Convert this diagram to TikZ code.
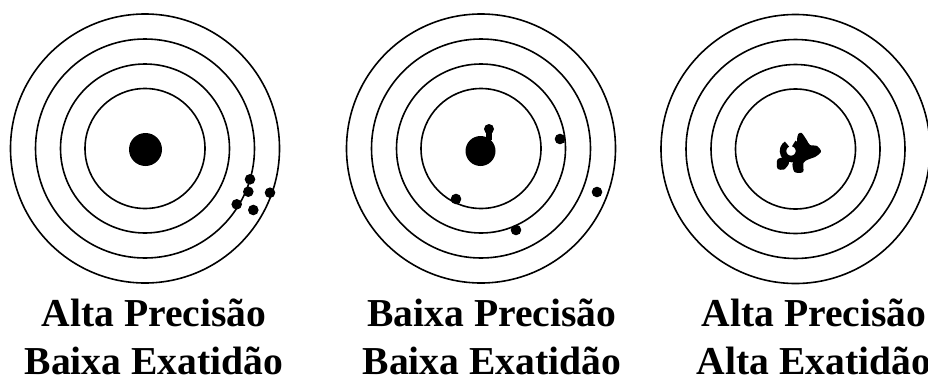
\documentclass[tikz,border=0pt]{standalone}
\usepackage{fontspec}
\setmainfont{Liberation Serif}
\begin{document}
\begin{tikzpicture}[x=1pt,y=-1pt,
  ring/.style={draw=black,line width=1.6pt},
  shot/.style={fill=black},
  lbl/.style={font=\bfseries\fontsize{39.6}{48}\selectfont,anchor=base,inner sep=0pt,text depth=0pt}]
\useasboundingbox (0,0) rectangle (928,380);
\fill[white] (0,0) rectangle (928,380);
% target 1
\foreach \r in {134.5,109.5,84.5,60} \draw[ring] (145,148.5) circle (\r);
\fill[shot] (145.5,149.5) circle (16.5);
\foreach \p in {(250,179.3),(248.3,191.7),(236.7,204.3),(253.3,210),(270,192.7)}
  \fill[shot] \p circle (5.3);
% target 2
\foreach \r in {134.5,109.5,84.5,60} \draw[ring] (481,148.5) circle (\r);
\fill[shot] (480.5,151) circle (15);
\fill[shot] (489,129) circle (5);
\fill[shot] (486,130) rectangle (492,140);
\foreach \p in {(560,139),(597,192),(456,199),(516,230)}
  \fill[shot] \p circle (5.3);
% target 3
\foreach \r in {134.5,109.5,84.5,60} \draw[ring] (795.5,149) circle (\r);
\draw[line width=6.5pt] (791,151) ++(290:8) arc[start angle=290,end angle=600,radius=8];
\fill[shot] plot[smooth cycle,tension=0.5] coordinates {(798.3,134) (801.7,133) (806.7,140) (810,145) (817,146) (821,151.7) (815,157) (808,159.5) (803.5,163) (803,172) (794.5,172) (792.5,163) (796.7,156.7) (798.3,150) (797,140)};
\fill[shot] plot[smooth cycle,tension=0.5] coordinates {(777.5,159.5) (785,157.5) (789,163) (784,169.5) (777.5,168.5)};
% labels
\node[lbl] (l1a) at (154,326.5) {Alta Precisão};
\node[lbl] (l1b) at (154,374) {Baixa Exatidão};
\node[lbl] (l2a) at (492,326.5) {Baixa Precisão};
\node[lbl] (l2b) at (492,374) {Baixa Exatidão};
\node[lbl] (l3a) at (814,326.5) {Alta Precisão};
\node[lbl] (l3b) at (814,374) {Alta Exatidão};
\end{tikzpicture}
\end{document}
